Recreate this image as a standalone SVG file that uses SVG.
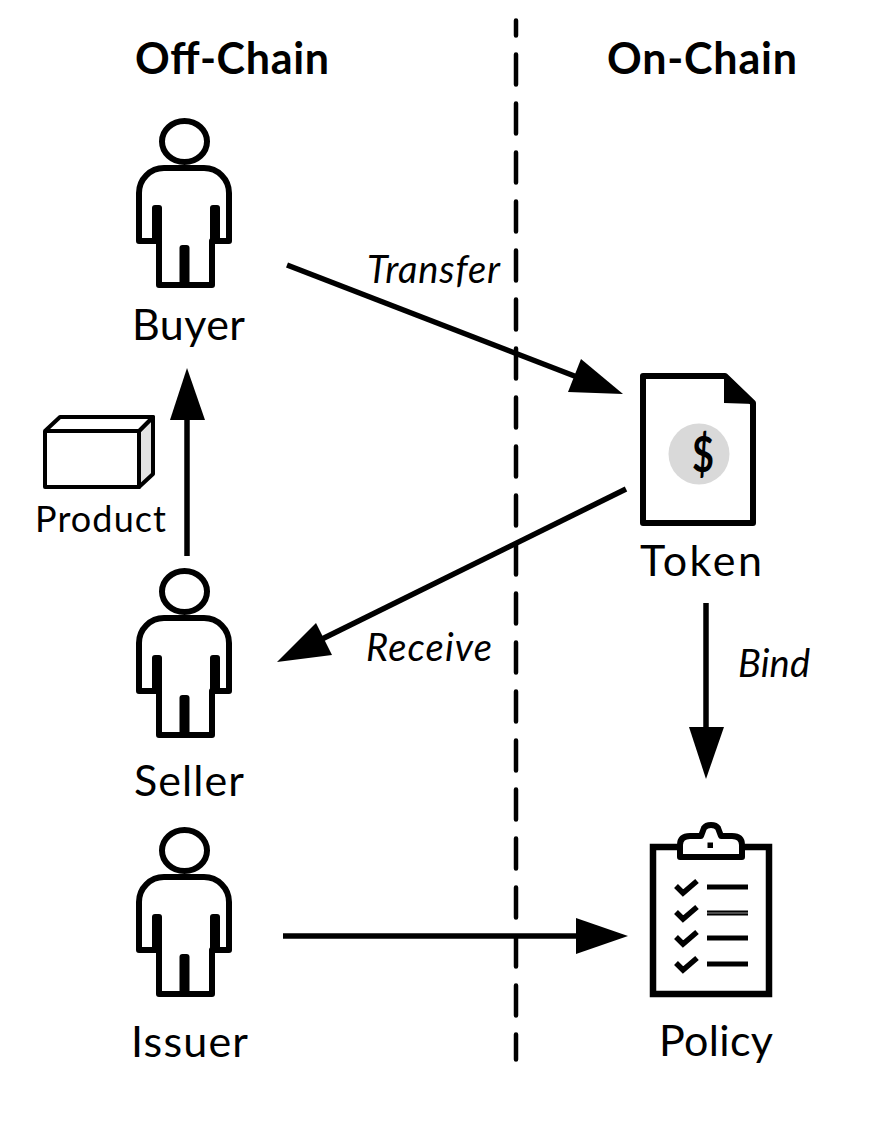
<svg xmlns="http://www.w3.org/2000/svg" width="874" height="1125" viewBox="0 0 874 1125">
<style>
text{font-family:Lato,"Liberation Sans",sans-serif;fill:#000;text-anchor:middle}
.h{font-size:43px;font-weight:700}
.l{font-size:43px}
.s{font-size:38px;font-style:italic}
.ln{fill:none;stroke:#000;stroke-width:5.500}
.o{fill:none;stroke:#000;stroke-width:6;stroke-linejoin:round}
.p{fill:#000}
</style>
<defs>
<g id="person">
<ellipse cx="184.500" cy="141.500" rx="22.500" ry="20.500" class="o"/>
<path class="o" d="M139 241V193A25 25 0 0 1 164 168H204A25 25 0 0 1 229 193V241H212V285H159V241Z"/>
<rect x="152" y="205" width="10" height="38" rx="3"/>
<rect x="210" y="205" width="10" height="38" rx="3"/>
<rect x="179.500" y="245" width="10" height="42" rx="3"/>
</g>
</defs>
<g id="connectors">
<line x1="516" y1="20.500" x2="516" y2="1059.500" stroke="#000" stroke-width="4.500" stroke-linecap="round" stroke-dasharray="30 19" stroke-dashoffset="15"/>
<line class="ln" x1="287" y1="265" x2="590" y2="382"/><polygon class="p" points="623,394 568,392 581,359"/>
<line class="ln" x1="626" y1="489" x2="320" y2="640"/><polygon class="p" points="277,662 316,623 332,655"/>
<line class="ln" x1="187" y1="556" x2="187" y2="410"/><polygon class="p" points="187,368 205,420 170,420"/>
<line class="ln" x1="706" y1="603" x2="706" y2="735"/><polygon class="p" points="706,779 689,727 724,727"/>
<line class="ln" x1="283" y1="936" x2="585" y2="936"/><polygon class="p" points="628,936 576,918 576,954"/>
</g>
<g id="heading-off"><text class="h" x="232" y="74" textLength="194">Off-Chain</text></g>
<g id="heading-on"><text class="h" x="702" y="74" textLength="190">On-Chain</text></g>
<g id="buyer"><use href="#person"/><text class="l" x="188.500" y="340" textLength="113">Buyer</text></g>
<g id="seller"><use href="#person" y="450"/><text class="l" x="189" y="796" textLength="110">Seller</text></g>
<g id="issuer"><use href="#person" y="709"/><text class="l" x="189.500" y="1057" textLength="117">Issuer</text></g>
<g id="product">
<path d="M139 431L153 417V474L139 487Z" fill="#e3e3e3" stroke="#000" stroke-width="4" stroke-linejoin="round"/>
<path d="M45 431L60 417H153L139 431M45 431H139V487H45Z" fill="#fff" stroke="#000" stroke-width="4" stroke-linejoin="round"/>
<text x="100.500" y="532" font-size="36" textLength="131">Product</text>
</g>
<g id="token">
<path class="o" d="M643 376H725L753 403V523H643Z"/>
<polygon class="p" points="724,376 754,404 724,403"/>
<circle cx="699" cy="454" r="30.500" fill="#d9d9d9"/>
<text x="703" y="472" font-size="50" font-weight="700" textLength="22" lengthAdjust="spacingAndGlyphs">$</text>
<text class="l" x="701" y="576" textLength="122">Token</text>
</g>
<g id="policy">
<path d="M653 847H769V994H653Z" fill="none" stroke="#000" stroke-width="6.500"/>
<path d="M680 857V845Q680 836 690 836H701L704 828Q706 825 711 825Q716 825 718 828L721 836H732Q742 836 742 845V857Z" fill="#fff" stroke="#000" stroke-width="6" stroke-linejoin="round"/>
<rect x="707.500" y="842.500" width="5.500" height="5.500"/>
<path d="M676 886L683 893L697 881M676 912L683 919L697 907M676 937L683 944L697 932M676 963L683 970L697 958" fill="none" stroke="#000" stroke-width="5.500"/>
<path d="M707 887H748M707 913H748M707 938H748M707 964H748" fill="none" stroke="#000" stroke-width="5"/>
<path d="M707 913H748" fill="none" stroke="#666" stroke-width="1.500"/>
<text class="l" x="716" y="1056" textLength="114">Policy</text>
</g>
<g id="labels">
<text class="s" x="433.500" y="283" textLength="133">Transfer</text>
<text class="s" x="429" y="661" textLength="126">Receive</text>
<text class="s" x="774" y="677" textLength="72">Bind</text>
</g>
</svg>
